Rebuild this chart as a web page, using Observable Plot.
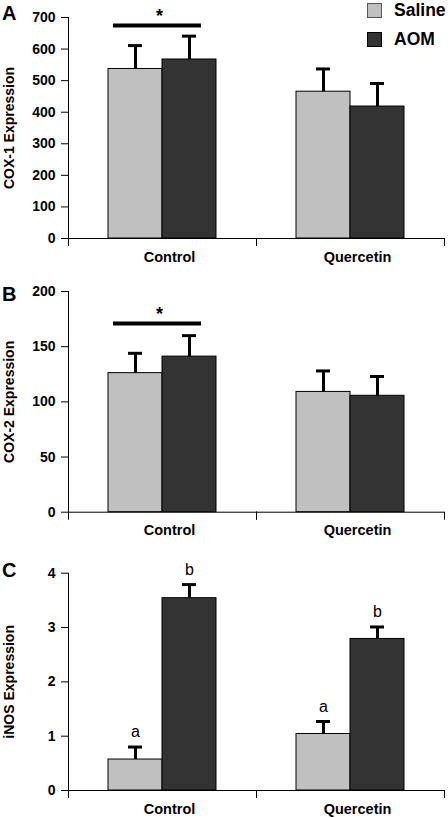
<!DOCTYPE html>
<html><head><meta charset="utf-8">
<script src="https://cdn.jsdelivr.net/npm/d3@7"></script>
<script src="https://cdn.jsdelivr.net/npm/@observablehq/plot@0.6"></script>
<style>
body{margin:0;background:#fff;font-family:"Liberation Sans",Arial,sans-serif;}
#chart{position:relative;width:448px;height:818px;overflow:hidden;}
.panel{position:absolute;left:0;}
.letter{position:absolute;font-weight:bold;font-size:20px;line-height:1;}
.leg{position:absolute;left:367px;display:flex;align-items:center;font-weight:bold;font-size:17.5px;}
.sw{width:15px;height:15px;margin-right:12px;box-sizing:border-box;}
</style></head><body><div id="chart"></div>
<script>
const groups = ["Control", "Quercetin"];
const treatments = ["Saline", "AOM"];
// order: Control-Saline, Control-AOM, Quercetin-Saline, Quercetin-AOM
const cox1Mean = [537, 567, 465, 418];
const cox1SE = [74, 74, 72, 73];
const cox2Mean = [126, 141, 109, 105.5];
const cox2SE = [18, 19, 19, 17.5];
const inosMean = [0.57, 3.54, 1.04, 2.79];
const inosSE = [0.23, 0.25, 0.23, 0.22];
const inosLetters = ["a", "b", "a", "b"];
const cox1Ticks = [0, 100, 200, 300, 400, 500, 600, 700];
const cox2Ticks = [0, 50, 100, 150, 200];
const inosTicks = [0, 1, 2, 3, 4];
const cox1Sig = [{group: "Control", y: 675}];
const cox2Sig = [{group: "Control", y: 171}];
const colors = ["#c0c0c0", "#333333"];

function rowsOf(means, ses, letters) {
  return means.map((m, i) => ({
    group: groups[Math.floor(i / 2)],
    treatment: treatments[i % 2],
    mean: m,
    top: m + ses[i],
    letter: letters ? letters[i] : ""
  }));
}

function panel({means, ses, letters, domain, ticks, label, height, marginTop, marginBottom, sig}) {
  const rows = rowsOf(means, ses, letters);
  const plotH = height - marginTop - marginBottom;
  const marks = [
    Plot.barY(rows, {fx: "group", x: "treatment", y: "mean", fill: "treatment", stroke: "#000", strokeWidth: 1}),
    Plot.ruleX(rows, {fx: "group", x: "treatment", y1: "mean", y2: "top", strokeWidth: 3, stroke: "#000"}),
    Plot.tickY(rows, {fx: "group", x: "treatment", y: "top", strokeWidth: 3, stroke: "#000", insetLeft: 20, insetRight: 20}),
    Plot.ruleY([0], {stroke: "#000", strokeWidth: 1}),
    Plot.frame({anchor: "left", insetTop: plotH, insetBottom: -7, stroke: "#000"}),
    Plot.frame({anchor: "right", insetTop: plotH, insetBottom: -7, stroke: "#000"}),
    Plot.frame({anchor: "left", fx: "Control", stroke: "#000"}),
    Plot.axisY({ticks, tickSize: 7, tickPadding: 6, fontSize: 14, label, labelAnchor: "center", labelArrow: false, labelOffset: 64, tickFormat: d => String(d)}),
    Plot.axisFx({anchor: "bottom", tickSize: 0, tickPadding: 13, dx: 7, label: null, fontSize: 14.5})
  ];
  if (sig) {
    marks.push(Plot.ruleY(sig, {fx: "group", y: "y", strokeWidth: 4, stroke: "#000", insetLeft: 45, insetRight: 55}));
    marks.push(Plot.text(sig, {fx: "group", y: "y", text: () => "*", dy: -9, dx: -3, fontSize: 18}));
  }
  if (letters) {
    marks.push(Plot.text(rows, {fx: "group", x: "treatment", y: "top", text: "letter", dy: -15, fontSize: 16, fontWeight: "normal"}));
  }
  return Plot.plot({
    width: 448, height, marginLeft: 67, marginRight: 4, marginTop, marginBottom,
    style: {fontFamily: "'Liberation Sans', Arial, sans-serif", fontSize: "14px", fontWeight: "bold", color: "#000", background: "#fff"},
    fx: {domain: groups, paddingInner: 0, paddingOuter: 0, label: null},
    x: {domain: treatments, paddingInner: 0, paddingOuter: 0.73, axis: null},
    y: {domain},
    color: {domain: treatments, range: colors},
    marks
  });
}

const chart = document.getElementById("chart");
const specs = [
  {top: 0, means: cox1Mean, ses: cox1SE, domain: [0, 700], ticks: cox1Ticks, label: "COX-1 Expression", height: 272, marginTop: 17, marginBottom: 34, sig: cox1Sig, letter: "A", letterTop: 3},
  {top: 272, means: cox2Mean, ses: cox2SE, domain: [0, 200], ticks: cox2Ticks, label: "COX-2 Expression", height: 272, marginTop: 19, marginBottom: 32.3, sig: cox2Sig, letter: "B", letterTop: 284},
  {top: 544, means: inosMean, ses: inosSE, letters: inosLetters, domain: [0, 4], ticks: inosTicks, label: "iNOS Expression", height: 274, marginTop: 28.7, marginBottom: 28, letter: "C", letterTop: 560}
];
for (const s of specs) {
  const div = document.createElement("div");
  div.className = "panel";
  div.style.top = s.top + "px";
  div.appendChild(panel(s));
  chart.appendChild(div);
  const L = document.createElement("div");
  L.className = "letter";
  L.style.left = "2px";
  L.style.top = s.letterTop + "px";
  L.textContent = s.letter;
  chart.appendChild(L);
}
treatments.forEach((t, i) => {
  const d = document.createElement("div");
  d.className = "leg";
  d.style.top = (i === 0 ? 0 : 29) + "px";
  const sw = document.createElement("div");
  sw.className = "sw";
  sw.style.background = colors[i];
  sw.style.border = "1px solid " + (i === 0 ? "#555" : "#000");
  d.appendChild(sw);
  const tx = document.createElement("span");
  tx.textContent = t;
  d.appendChild(tx);
  chart.appendChild(d);
});
</script></body></html>
